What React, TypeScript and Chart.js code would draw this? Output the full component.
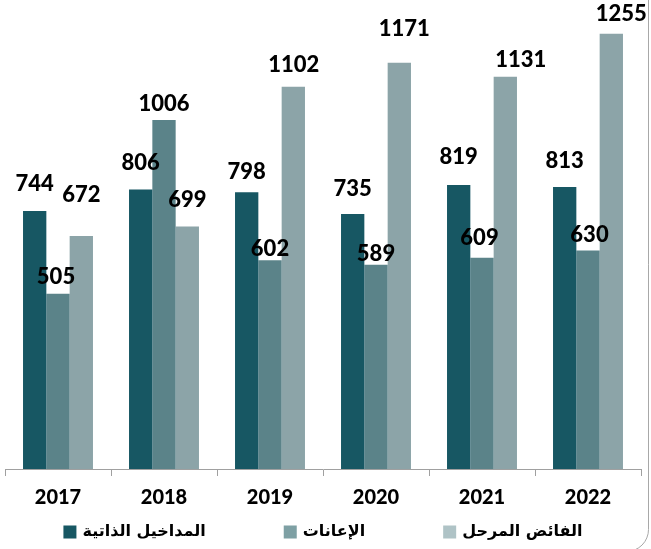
import React, { useEffect, useRef } from "react";
import { Chart, registerables } from "chart.js";

Chart.register(...registerables);

const years = ["2017", "2018", "2019", "2020", "2021", "2022"];
const seriesNames = ["المداخيل الذاتية", "الإعانات", "الفائض المرحل"];
const ownRevenue = [744, 806, 798, 735, 819, 813];
const subsidies = [505, 1006, 602, 589, 609, 630];
const carriedSurplus = [672, 699, 1102, 1171, 1131, 1255];

const barColors = ["#175763", "#5b8389", "#8ca4a8"];
const legendColors = ["#175763", "#7ea0a4", "#afc3c6"];

// label placement tweaks (px): horizontal shift and height of label centre above bar top
const labelDx = [
  [0, 0, 0, 0, 0, 0],
  [-2, 0, 0, 0, -2.5, 1.5],
  [0, 0, 0.5, 5, 15.5, 10],
];
const labelDy = [
  [27, 26, 20, 25.5, 28, 26.5],
  [16.5, 16, 11.5, 10.5, 20, 16],
  [41, 26.5, 22, 33.5, 16.5, 19.5],
];

const valueLabels = {
  id: "valueLabels",
  afterDatasetsDraw(chart: any) {
    const ctx = chart.ctx;
    ctx.save();
    ctx.font = "900 22px Lato";
    ctx.fillStyle = "#000";
    ctx.textAlign = "center";
    ctx.textBaseline = "middle";
    chart.data.datasets.forEach((ds: any, di: number) => {
      const meta = chart.getDatasetMeta(di);
      meta.data.forEach((bar: any, i: number) => {
        ctx.fillText(String(ds.data[i]), bar.x + labelDx[di][i], bar.y - labelDy[di][i]);
      });
    });
    ctx.restore();
  },
};

const bottomLegend = {
  id: "bottomLegend",
  afterDraw(chart: any) {
    const ctx = chart.ctx;
    const box = 13;
    const gapBoxText = 6;
    const itemGap = 78;
    const yMid = 532;
    ctx.save();
    ctx.font = "bold 16px 'DejaVu Sans'";
    ctx.textBaseline = "middle";
    ctx.textAlign = "left";
    const names: string[] = chart.data.datasets.map((d: any) => d.label);
    const widths = names.map((n) => box + gapBoxText + ctx.measureText(n).width);
    const total = widths.reduce((a, b) => a + b, 0) + itemGap * (names.length - 1);
    const area = chart.chartArea;
    let x = (area.left + area.right) / 2 - total / 2;
    names.forEach((n, i) => {
      ctx.fillStyle = legendColors[i];
      ctx.fillRect(x, yMid - box / 2, box, box);
      ctx.fillStyle = "#000";
      ctx.fillText(n, x + box + gapBoxText, yMid);
      x += widths[i] + itemGap;
    });
    ctx.restore();
  },
};

const frame = {
  id: "frame",
  afterDraw(chart: any) {
    const ctx = chart.ctx;
    ctx.save();
    ctx.strokeStyle = "#a8a8a8";
    ctx.lineWidth = 1;
    ctx.beginPath();
    ctx.roundRect(-30.5, -30.5, 679, 582, 22);
    ctx.stroke();
    ctx.restore();
  },
};

export default function App() {
  const ref = useRef<HTMLCanvasElement>(null);
  useEffect(() => {
    const chart = new Chart(ref.current!, {
      type: "bar",
      data: {
        labels: years,
        datasets: [ownRevenue, subsidies, carriedSurplus].map((d, i) => ({
          label: seriesNames[i],
          data: d,
          backgroundColor: barColors[i],
          borderWidth: 0,
          categoryPercentage: 0.66,
          barPercentage: 1.0,
        })),
      },
      options: {
        responsive: false,
        animation: false,
        layout: { padding: { left: 5, right: 10, top: 0, bottom: 29 } },
        plugins: {
          tooltip: { enabled: false },
          legend: { display: false },
        },
        scales: {
          x: {
            offset: true,
            grid: {
              offset: true,
              drawOnChartArea: false,
              drawTicks: true,
              tickLength: 7,
              color: "#a0a0a0",
            },
            border: { display: true, color: "#a0a0a0" },
            ticks: {
              font: { family: "Lato", weight: "900", size: 20 },
              color: "#000",
              padding: 10,
            },
          },
          y: {
            display: false,
            min: 0,
            max: 1352,
          },
        },
      },
      plugins: [valueLabels, bottomLegend, frame],
    });
    return () => chart.destroy();
  }, []);
  return (
    <div style={{ position: "absolute", left: 0, top: 0, width: 651, height: 549, background: "#fff" }}>
      <canvas ref={ref} width={651} height={549} style={{ display: "block" }} />
    </div>
  );
}
